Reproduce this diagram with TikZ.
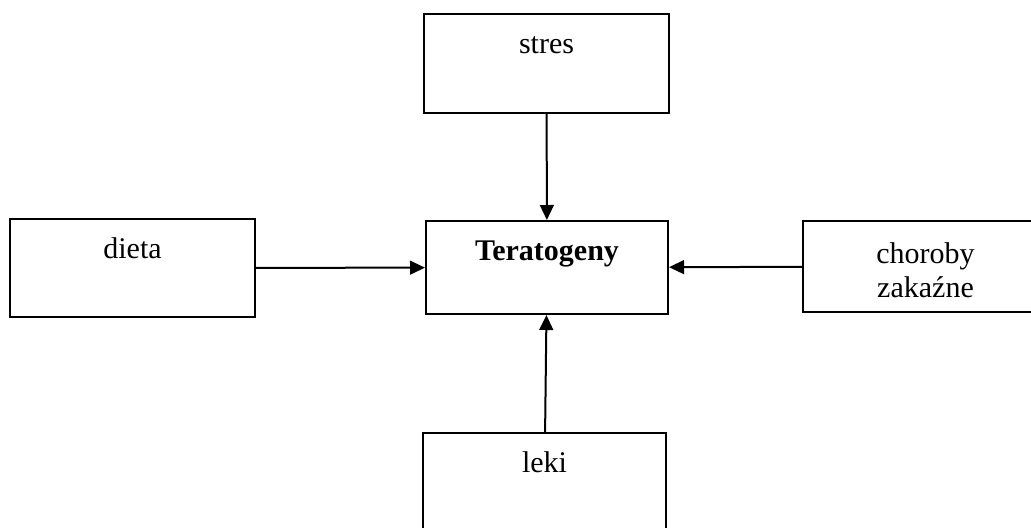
\documentclass[tikz,border=0pt]{standalone}
\usepackage{fontspec}
\setmainfont{Liberation Serif}
\usetikzlibrary{arrows.meta,positioning}
\begin{document}
\begin{tikzpicture}[x=0.4pt,y=-0.4pt,
    box/.style={draw,line width=0.8pt,minimum width=98pt},
    lbl/.style={anchor=base,font=\fontsize{12}{13.8}\selectfont,align=center},
    arr/.style={line width=0.8pt,-{Triangle[length=6pt,width=5.5pt]}}]
    \useasboundingbox (0,0) rectangle (1031,527);
    \clip (0,0) rectangle (1031,527);
    \node[box,minimum height=39.6pt] (stres) at (546.5,63.5) {};
    \node[box,minimum width=96.8pt,minimum height=37.2pt] (tera) at (547,267.5) {};
    \node[box,minimum height=39.2pt] (dieta) at (132.5,268) {};
    \node[box,minimum height=36.4pt] (choroby) at (925.5,266.5) {};
    \node[box,minimum width=97.2pt,minimum height=38.8pt] (leki) at (544.5,481.5) {};
    \node[lbl] (stresT) at ([yshift=-16pt]stres.north) {stres};
    \node[lbl] (teraT) at ([yshift=-16pt]tera.north) {\textbf{Teratogeny}};
    \node[lbl] (dietaT) at ([yshift=-16pt]dieta.north) {dieta};
    \node[lbl,anchor=north,yshift=10.6pt] (chorobyT) at ([yshift=-16pt]choroby.north) {choroby\\zakaźne};
    \node[lbl] (lekiT) at ([yshift=-16pt]leki.north) {leki};
    \draw[arr] (stres) -- (tera);
    \draw[arr] (dieta) -- (tera);
    \draw[arr] (choroby) -- (tera);
    \draw[arr] (leki) -- (tera);
\end{tikzpicture}
\end{document}
